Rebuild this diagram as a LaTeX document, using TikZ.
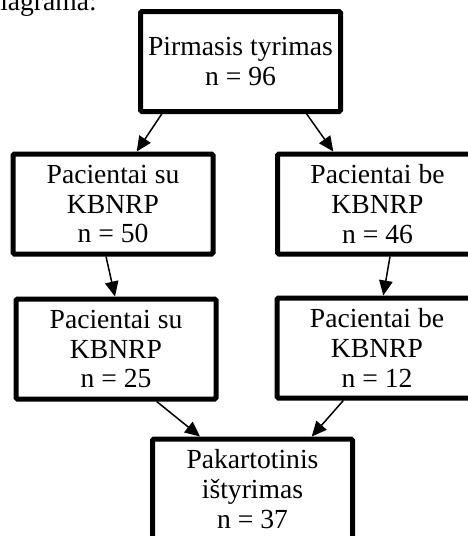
\documentclass[tikz,border=0pt]{standalone}
\usepackage{fontspec}
\setmainfont{Liberation Serif}
\usepackage{tikz}
\usetikzlibrary{calc,positioning,arrows.meta}
\tikzset{box/.style={
        draw=black,
        line width=5pt,
        rounded corners=1.5pt,
        fill=white,
        rectangle,
        minimum width=200pt,
        minimum height=100pt,
        align=center,
        inner sep=0pt,
        font=\fontsize{27.6}{29.6}\selectfont},
        caption/.style={
            inner sep=0pt,
            font=\fontsize{27.6}{29.6}\selectfont}
        }
\tikzstyle{arrow}     = [line width=1.5pt,-{Triangle[length=15pt,width=13.5pt]}]

\begin{document}
\begin{tikzpicture}[x=1pt,y=-1pt]
		\useasboundingbox (0,0) rectangle (468,536);

		\node[caption,anchor=base east] (cap) at (97,10) {diagrama:};

		\node[box] (first) at (240.5,61.5) {Pirmasis tyrimas\\n = 96};

		\node[box] (withA) at (113,204) {Pacientai su\\KBNRP\\n = 50};
		\node[box] (withoutA) at (377.5,204) {Pacientai be\\KBNRP\\n = 46};

		\node[box] (withB) at (116,349) {Pacientai su\\KBNRP\\n = 25};
		\node[box] (withoutB) at (377,348) {Pacientai be\\KBNRP\\n = 12};

		\node[box] (repeat) at (252.5,489) {Pakartotinis\\ištyrimas\\n = 37};

		\draw[arrow] ([xshift=-78.8pt]first.south) -- ([xshift=23.7pt]withA.north);
		\draw[arrow] ([xshift=66.2pt]first.south) -- ([xshift=-44.2pt]withoutA.north);
		\draw[arrow] ([xshift=-7pt]withA.south) -- ([xshift=-1pt]withB.north);
		\draw[arrow] ([xshift=12.5pt]withoutA.south) -- ([xshift=6.3pt]withoutB.north);
		\draw[arrow] ([xshift=40.7pt]withB.south) -- ([xshift=-52.5pt]repeat.north);
		\draw[arrow] ([xshift=-33.7pt]withoutB.south) -- ([xshift=59.2pt]repeat.north);
	\end{tikzpicture}
\end{document}
